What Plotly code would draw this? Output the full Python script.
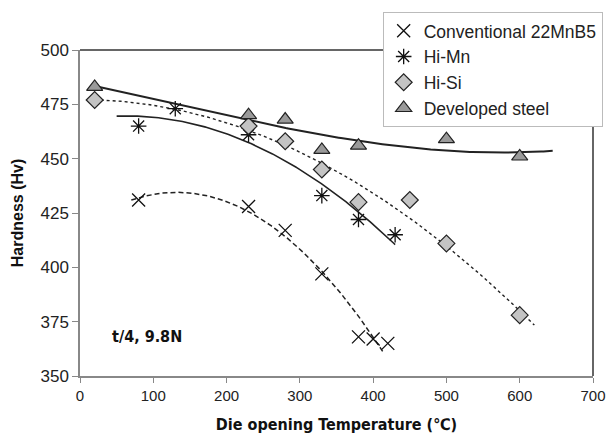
import numpy as np
import plotly.graph_objects as go

# ---- data ----
conv_x = [80, 230, 280, 330, 380, 400, 420]
conv_y = [431, 428, 417, 397, 368, 367, 365]
himn_x = [80, 130, 230, 330, 380, 430]
himn_y = [465, 473, 461, 433, 422, 415]
hisi_x = [20, 230, 280, 330, 380, 450, 500, 600]
hisi_y = [477, 465, 458, 445, 430, 431, 411, 378]
dev_x = [20, 230, 280, 330, 380, 500, 600]
dev_y = [483, 470, 468, 454, 456, 459, 451]

x_ticks = [0, 100, 200, 300, 400, 500, 600, 700]
y_ticks = [350, 375, 400, 425, 450, 475, 500]

# trendline (polynomial order, start, end)
conv_fit = (2, 70, 415)
himn_fit = (2, 50, 430)
hisi_fit = (2, 20, 620)
dev_fit = (3, 20, 645)

fig = go.Figure()

def trend(x, y, spec, dash, width):
    deg, x0, x1 = spec
    c = np.polyfit(x, y, deg)
    xs = np.linspace(x0, x1, 200)
    fig.add_trace(go.Scatter(x=xs, y=np.polyval(c, xs), mode="lines",
                             line=dict(color="#222", width=width, dash=dash),
                             showlegend=False, hoverinfo="skip"))

trend(conv_x, conv_y, conv_fit, "5px,3px", 1.5)
trend(himn_x, himn_y, himn_fit, "solid", 1.6)
trend(hisi_x, hisi_y, hisi_fit, "dot", 1.4)
trend(dev_x, dev_y, dev_fit, "solid", 2)

fig.add_trace(go.Scatter(x=conv_x, y=conv_y, mode="markers", name="Conventional 22MnB5",
                         marker=dict(symbol="x-thin-open", size=13, color="#111",
                                     line=dict(color="#111", width=1.3))))
fig.add_trace(go.Scatter(x=himn_x, y=himn_y, mode="markers", name="Hi-Mn",
                         marker=dict(symbol="asterisk-open", size=13, color="#111",
                                     line=dict(color="#111", width=1.3))))
fig.add_trace(go.Scatter(x=hisi_x, y=hisi_y, mode="markers", name="Hi-Si",
                         marker=dict(symbol="diamond", size=13, color="#c4c4c4",
                                     line=dict(color="#222", width=1.2))))
fig.add_trace(go.Scatter(x=dev_x, y=dev_y, mode="markers", name="Developed steel",
                         marker=dict(symbol="triangle-up", size=14, color="#9a9a9a",
                                     line=dict(color="#222", width=1.2))))

fig.update_xaxes(range=[0, 700], tickvals=x_ticks, showgrid=False, zeroline=False,
                 showline=True, linecolor="#888", linewidth=1.5, automargin=False,
                 ticks="outside", ticklen=5, tickcolor="#888",
                 tickfont=dict(family="Liberation Sans, Arial", size=15, color="#222"),
                 title=dict(text="<b>Die opening Temperature (℃)</b>",
                            font=dict(family="DejaVu Sans Condensed, Liberation Sans", size=16, color="#111"),
                            standoff=16))
fig.update_yaxes(range=[350, 500], tickvals=y_ticks, showgrid=False, zeroline=False,
                 showline=True, linecolor="#888", linewidth=1.5, automargin=False,
                 ticks="outside", ticklen=6, tickcolor="#888",
                 tickfont=dict(family="Liberation Sans, Arial", size=17, color="#222"),
                 title=dict(text="<b>Hardness (Hv)</b>",
                            font=dict(family="Liberation Sans, Arial", size=16, color="#111"),
                            standoff=13))

# top and right frame lines
fig.add_shape(type="line", xref="paper", yref="paper", x0=0, x1=1, y0=1, y1=1,
              line=dict(color="#333", width=1.5), layer="below")
fig.add_shape(type="line", xref="paper", yref="paper", x0=1, x1=1, y0=0, y1=1,
              line=dict(color="#333", width=1.5), layer="below")

fig.add_annotation(x=41, y=368, xref="x", yref="y", text="<b>t/4, 9.8N</b>",
                   showarrow=False, xanchor="left",
                   font=dict(family="DejaVu Sans Condensed, Liberation Sans", size=16, color="#111"))

fig.update_layout(
    width=615, height=437,
    margin=dict(l=80, r=22, t=47, b=61),
    plot_bgcolor="white", paper_bgcolor="white",
    legend=dict(x=0.59, y=1.117, xanchor="left", yanchor="top",
                bgcolor="white", bordercolor="#bbb", borderwidth=1,
                font=dict(family="Liberation Sans, Arial", size=17.5, color="#222"),
                itemwidth=30, tracegroupgap=0),
)

fig.write_html("out.html")
